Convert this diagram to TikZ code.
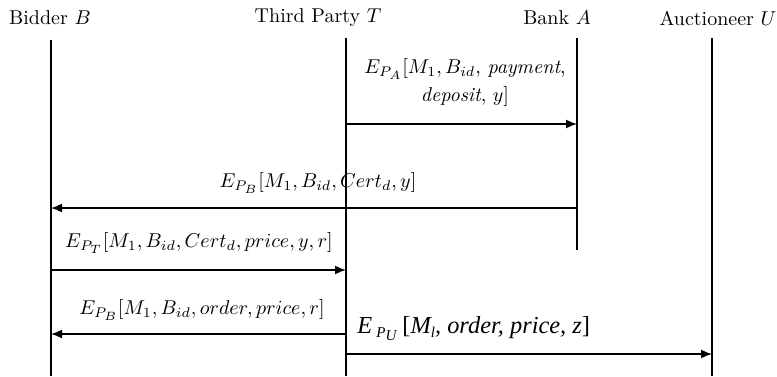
\documentclass[tikz,border=0pt]{standalone}
\usepackage{fontspec}
\usetikzlibrary{arrows.meta}
\newfontfamily\myserif{Liberation Serif}
\DeclareMathSizes{10}{10}{7}{6}
\begin{document}
\begin{tikzpicture}[x=0.5pt,y=-0.5pt,
  lifeline/.style={line width=0.8pt},
  msg/.style={line width=0.8pt,-{Latex[length=5.5pt,width=4.5pt]}},
  head/.style={inner sep=0pt,font=\normalsize},
  lab/.style={inner sep=0pt,font=\normalsize}]
\useasboundingbox (0,0) rectangle (777,376);
% headers
\node[head] (hB) at (50,18) {Bidder $B$};
\node[head] (hT) at (318,18) {Third Party $T$};
\node[head] (hA) at (557,18) {Bank $A$};
\node[head] (hU) at (718,18) {Auctioneer $U$};
% lifeline ends
\coordinate (Bt) at (51,40);  \coordinate (Bb) at (51,376);
\coordinate (Tt) at (346,38); \coordinate (Tb) at (346,376);
\coordinate (At) at (577,38); \coordinate (Ab) at (577,250);
\coordinate (Ut) at (712,38); \coordinate (Ub) at (712,376);
\draw[lifeline] (Bt) -- (Bb);
\draw[lifeline] (Tt) -- (Tb);
\draw[lifeline] (At) -- (Ab);
\draw[lifeline] (Ut) -- (Ub);
% message points
\coordinate (T1) at (346,124); \coordinate (A1) at (577,124);
\coordinate (A2) at (577,208); \coordinate (B2) at (51,208);
\coordinate (B3) at (51,270);  \coordinate (T3) at (346,270);
\coordinate (T4) at (346,334); \coordinate (B4) at (51,334);
\coordinate (T5) at (346,354); \coordinate (U5) at (712,354);
\draw[msg] (T1) -- (A1);
\draw[msg] (A2) -- (B2);
\draw[msg] (B3) -- (T3);
\draw[msg] (T4) -- (B4);
\draw[msg] (T5) -- (U5);
% labels
\node[lab,align=center] (m1) at (465,82) {$E_{P_A}[M_1, B_{id}$, \textit{payment},\\[2pt] \textit{deposit}, $y]$};
\node[lab] (m2) at (318,183) {$E_{P_B}[M_1, B_{id}, Cert_d, y]$};
\node[lab] (m3) at (199,243) {$E_{P_T}[M_1, B_{id}, Cert_d, price, y, r]$};
\node[lab] (m4) at (202,310) {$E_{P_B}[M_1, B_{id}, order, price, r]$};
\node[lab,anchor=west,font=\myserif\fontsize{12.2}{14}\selectfont] (m5) at (357,329) {\itshape E\,\raisebox{-0.35ex}{\fontsize{7.5}{9}\selectfont P\raisebox{-0.45ex}{U}}\ {\upshape[}M\raisebox{-0.3ex}{\fontsize{7.5}{9}\selectfont l}, order, price, z{\upshape]}};
\end{tikzpicture}
\end{document}
